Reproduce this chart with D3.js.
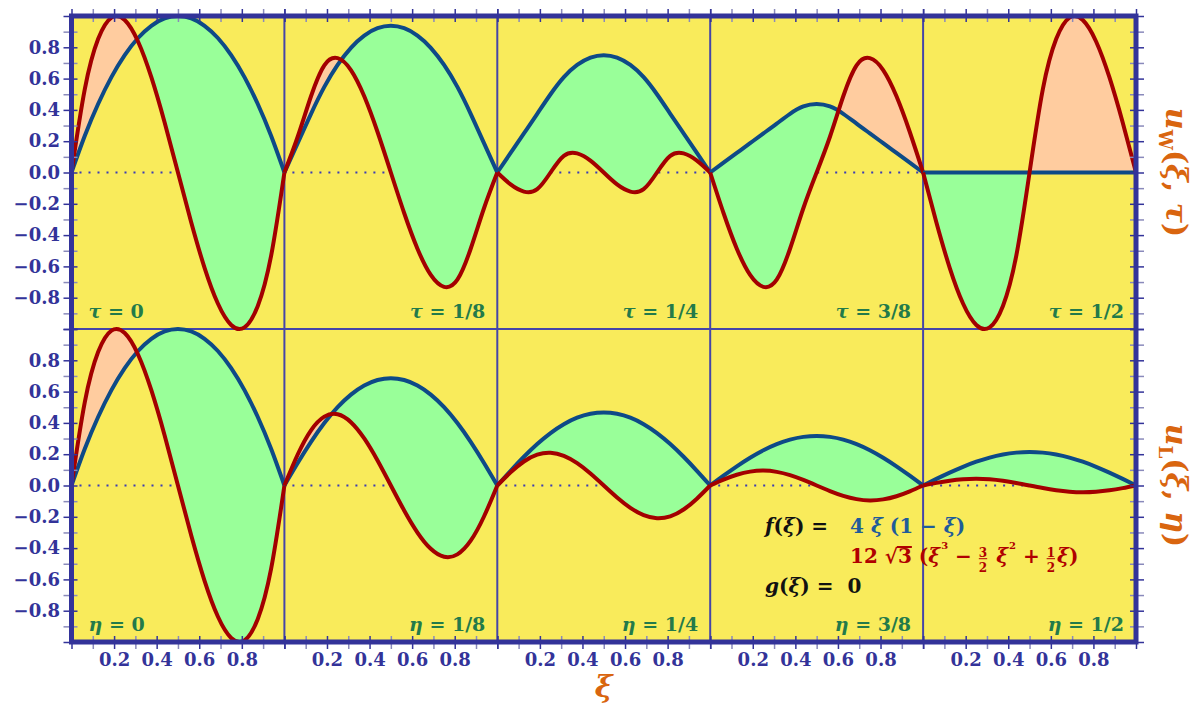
<!DOCTYPE html>
<html>
<head>
<meta charset="utf-8">
<script src="https://cdn.jsdelivr.net/npm/d3@7"></script>
<style>
body { margin: 0; background: #fff; }
text { font-family: "DejaVu Serif", serif; white-space: pre; }
</style>
</head>
<body>
<svg id="chart" width="1200" height="709"></svg>
<script>
// sample points along xi, shared by every panel
var xiGrid = [0, 0.0625, 0.125, 0.1875, 0.25, 0.3125, 0.375, 0.4375, 0.5,
              0.5625, 0.625, 0.6875, 0.75, 0.8125, 0.875, 0.9375, 1];
var stepLabels = ["0", "1/8", "1/4", "3/8", "1/2"];

// wave solution u_W, one row per tau
var waveBlue = [
  [0, 0.2344, 0.4375, 0.6094, 0.75, 0.8594, 0.9375, 0.9844, 1, 0.9844, 0.9375, 0.8594, 0.75, 0.6094, 0.4375, 0.2344, 0],
  [0, 0.1875, 0.375, 0.5469, 0.6875, 0.7969, 0.875, 0.9219, 0.9375, 0.9219, 0.875, 0.7969, 0.6875, 0.5469, 0.375, 0.1875, 0],
  [0, 0.125, 0.25, 0.375, 0.5, 0.6094, 0.6875, 0.7344, 0.75, 0.7344, 0.6875, 0.6094, 0.5, 0.375, 0.25, 0.125, 0],
  [0, 0.0625, 0.125, 0.1875, 0.25, 0.3125, 0.375, 0.4219, 0.4375, 0.4219, 0.375, 0.3125, 0.25, 0.1875, 0.125, 0.0625, 0],
  [0, 0, 0, 0, 0, 0, 0, 0, 0, 0, 0, 0, 0, 0, 0, 0, 0]
];
var waveRed = [
  [0, 0.5328, 0.8525, 0.9895, 0.9743, 0.8373, 0.6089, 0.3197, 0, -0.3197, -0.6089, -0.8373, -0.9743, -0.9895, -0.8525, -0.5328, 0],
  [0, 0.2284, 0.4871, 0.6851, 0.7307, 0.6546, 0.4871, 0.2588, 0, -0.2588, -0.4871, -0.6546, -0.7307, -0.6851, -0.4871, -0.2284, 0],
  [0, -0.0761, -0.1218, -0.1066, 0, 0.1066, 0.1218, 0.0761, 0, -0.0761, -0.1218, -0.1066, 0, 0.1066, 0.1218, 0.0761, 0],
  [0, -0.2588, -0.4871, -0.6546, -0.7307, -0.6851, -0.4871, -0.2284, 0, 0.2284, 0.4871, 0.6851, 0.7307, 0.6546, 0.4871, 0.2588, 0],
  [0, -0.3197, -0.6089, -0.8373, -0.9743, -0.9895, -0.8525, -0.5328, 0, 0.5328, 0.8525, 0.9895, 0.9743, 0.8373, 0.6089, 0.3197, 0]
];

// laplace solution u_L, one row per eta
var laplaceBlue = [
  [0, 0.2344, 0.4375, 0.6094, 0.75, 0.8594, 0.9375, 0.9844, 1, 0.9844, 0.9375, 0.8594, 0.75, 0.6094, 0.4375, 0.2344, 0],
  [0, 0.1435, 0.2786, 0.3989, 0.5003, 0.5806, 0.6389, 0.6743, 0.6861, 0.6743, 0.6389, 0.5806, 0.5003, 0.3989, 0.2786, 0.1435, 0],
  [0, 0.0940, 0.1836, 0.2650, 0.3352, 0.3918, 0.4333, 0.4586, 0.4671, 0.4586, 0.4333, 0.3918, 0.3352, 0.2650, 0.1836, 0.0940, 0],
  [0, 0.0626, 0.1226, 0.1776, 0.2255, 0.2644, 0.2931, 0.3107, 0.3166, 0.3107, 0.2931, 0.2644, 0.2255, 0.1776, 0.1226, 0.0626, 0],
  [0, 0.0421, 0.0824, 0.1195, 0.1520, 0.1785, 0.1981, 0.2101, 0.2142, 0.2101, 0.1981, 0.1785, 0.1520, 0.1195, 0.0824, 0.0421, 0]
];
var laplaceRed = [
  [0, 0.5328, 0.8525, 0.9895, 0.9743, 0.8373, 0.6089, 0.3197, 0, -0.3197, -0.6089, -0.8373, -0.9743, -0.9895, -0.8525, -0.5328, 0],
  [0, 0.1980, 0.3527, 0.4399, 0.4551, 0.4043, 0.3004, 0.1596, 0, -0.1596, -0.3004, -0.4043, -0.4551, -0.4399, -0.3527, -0.1980, 0],
  [0, 0.0841, 0.1535, 0.1968, 0.2087, 0.1891, 0.1426, 0.0765, 0, -0.0765, -0.1426, -0.1891, -0.2087, -0.1968, -0.1535, -0.0841, 0],
  [0, 0.0373, 0.0685, 0.0888, 0.0953, 0.0872, 0.0663, 0.0357, 0, -0.0357, -0.0663, -0.0872, -0.0953, -0.0888, -0.0685, -0.0373, 0],
  [0, 0.0168, 0.0310, 0.0403, 0.0435, 0.0400, 0.0305, 0.0165, 0, -0.0165, -0.0305, -0.0400, -0.0435, -0.0403, -0.0310, -0.0168, 0]
];

var xTickValues = [0, 0.1, 0.2, 0.3, 0.4, 0.5, 0.6, 0.7, 0.8, 0.9, 1];
var xLabelled = [0.2, 0.4, 0.6, 0.8];
var yTickValues = [-1, -0.9, -0.8, -0.7, -0.6, -0.5, -0.4, -0.3, -0.2, -0.1, 0,
                   0.1, 0.2, 0.3, 0.4, 0.5, 0.6, 0.7, 0.8, 0.9, 1];
var yLabelled = [-0.8, -0.6, -0.4, -0.2, 0, 0.2, 0.4, 0.6, 0.8];

var left = 71.5, right = 1136, plotTop = 16, plotBottom = 642;
var colW = (right - left) / 5, rowH = (plotBottom - plotTop) / 2;

var yellow = '#f9eb5b', green = '#99ff99', peach = '#ffcc9f',
    blueLine = '#0e4a87', redLine = '#a30000', frame = '#333399',
    minorTick = '#8a8abb', labelGreen = '#237a4a', orange = '#d9650f';

var rows = [
  {sym: 'τ', blue: waveBlue, red: waveRed, sub: 'W'},
  {sym: 'η', blue: laplaceBlue, red: laplaceRed, sub: 'L'}
];

var svg = d3.select('#chart');
var defs = svg.append('defs');
var curve = d3.curveNatural;

svg.append('rect')
    .attr('x', left).attr('y', plotTop)
    .attr('width', right - left).attr('height', plotBottom - plotTop)
    .attr('fill', yellow);

var under = svg.append('g'), gridG = svg.append('g'), over = svg.append('g'),
    axesG = svg.append('g'), frameG = svg.append('g'), textG = svg.append('g');

function isMajor(d) { return Math.round(d * 10) % 2 === 0; }
function labelFmt(list) {
  var f = d3.format('.1f');
  return function(d) {
    return list.some(function(v) { return Math.abs(v - d) < 1e-9; }) ? f(d) : '';
  };
}
function styleAxis(g) {
  g.select('.domain').remove();
  g.selectAll('.tick line')
      .attr('stroke', function(d) { return isMajor(d) ? frame : minorTick; })
      .attr('stroke-width', 1.5);
  g.selectAll('.tick text')
      .attr('fill', frame)
      .style('font-size', '18px')
      .style('font-weight', 'bold');
}

rows.forEach(function(row, r) {
  var y = d3.scaleLinear().domain([-1, 1])
      .range([plotTop + (r + 1) * rowH, plotTop + r * rowH]);

  stepLabels.forEach(function(lab, c) {
    var x = d3.scaleLinear().domain([0, 1])
        .range([left + c * colW, left + (c + 1) * colW]);
    var pts = xiGrid.map(function(v, i) {
      return {xi: v, b: row.blue[c][i], r: row.red[c][i]};
    });
    var id = 'p' + r + c;

    defs.append('clipPath').attr('id', id + 'up').append('path')
        .attr('d', d3.area().curve(curve)
          .x(function(d) { return x(d.xi); })
          .y0(y(1) - 10)
          .y1(function(d) { return y(d.b); })(pts));
    defs.append('clipPath').attr('id', id + 'dn').append('path')
        .attr('d', d3.area().curve(curve)
          .x(function(d) { return x(d.xi); })
          .y0(y(-1) + 10)
          .y1(function(d) { return y(d.b); })(pts));

    // dotted zero line, under the fills
    under.append('line')
        .attr('x1', x(0)).attr('x2', x(1))
        .attr('y1', y(0)).attr('y2', y(0))
        .attr('stroke', '#3a3ab5')
        .attr('stroke-width', 2)
        .attr('stroke-dasharray', '2,7')
        .attr('stroke-dashoffset', -8);

    var between = d3.area().curve(curve)
        .x(function(d) { return x(d.xi); })
        .y0(function(d) { return y(d.b); })
        .y1(function(d) { return y(d.r); });
    under.append('path').attr('d', between(pts))
        .attr('fill', peach).attr('clip-path', 'url(#' + id + 'up)');
    under.append('path').attr('d', between(pts))
        .attr('fill', green).attr('clip-path', 'url(#' + id + 'dn)');

    var line = d3.line().curve(curve).x(function(d) { return x(d.xi); });
    over.append('path')
        .attr('d', line.y(function(d) { return y(d.b); })(pts))
        .attr('fill', 'none').attr('stroke', blueLine).attr('stroke-width', 4);
    over.append('path')
        .attr('d', line.y(function(d) { return y(d.r); })(pts))
        .attr('fill', 'none').attr('stroke', redLine).attr('stroke-width', 4);

    // panel label
    var t = textG.append('text')
        .attr('x', c === 0 ? x(0) + 17 : x(1) - 12)
        .attr('y', y(-1) - 11)
        .attr('text-anchor', c === 0 ? 'start' : 'end')
        .attr('fill', labelGreen)
        .style('font-size', '19px')
        .style('font-weight', 'bold');
    t.append('tspan').style('font-style', 'italic').text(row.sym);
    t.append('tspan').text(' = ' + lab);

    if (r === 1) {
      axesG.append('g')
          .attr('transform', 'translate(0,' + (plotBottom - 6) + ')')
          .call(d3.axisBottom(x).tickValues(xTickValues).tickSize(13)
                .tickPadding(4).tickFormat(labelFmt(xLabelled)))
          .call(styleAxis);
    } else {
      axesG.append('g')
          .attr('transform', 'translate(0,' + (plotTop + 6) + ')')
          .call(d3.axisTop(x).tickValues(xTickValues).tickSize(13).tickFormat(''))
          .call(styleAxis);
    }
  });

  axesG.append('g')
      .attr('transform', 'translate(' + (left + 6) + ',0)')
      .call(d3.axisLeft(y).tickValues(yTickValues).tickSize(14)
            .tickPadding(3.5).tickFormat(labelFmt(yLabelled)))
      .call(styleAxis);
  axesG.append('g')
      .attr('transform', 'translate(' + (right - 6) + ',0)')
      .call(d3.axisRight(y).tickValues(yTickValues).tickSize(14).tickFormat(''))
      .call(styleAxis);

  // rotated axis title on the right
  var lt = textG.append('text')
      .attr('transform', 'translate(1166,' + (plotTop + r * rowH + rowH / 2) + ') rotate(90)')
      .attr('text-anchor', 'middle')
      .attr('fill', orange)
      .style('font-size', '30px')
      .style('font-weight', 'bold');
  lt.append('tspan').style('font-style', 'italic').text('u');
  lt.append('tspan').attr('dy', 7).style('font-size', '18px').text(row.sub);
  lt.append('tspan').attr('dy', -7).text('(');
  lt.append('tspan').style('font-style', 'italic').text('ξ');
  lt.append('tspan').text(', ');
  lt.append('tspan').style('font-style', 'italic').text(row.sym);
  lt.append('tspan').text(')');
});

// panel dividers
[1, 2, 3, 4].forEach(function(c) {
  gridG.append('line')
      .attr('x1', left + c * colW).attr('x2', left + c * colW)
      .attr('y1', plotTop).attr('y2', plotBottom)
      .attr('stroke', '#4545a8').attr('stroke-width', 2);
});
gridG.append('line')
    .attr('x1', left).attr('x2', right)
    .attr('y1', plotTop + rowH).attr('y2', plotTop + rowH)
    .attr('stroke', '#4545a8').attr('stroke-width', 2);

frameG.append('rect')
    .attr('x', left).attr('y', plotTop)
    .attr('width', right - left).attr('height', plotBottom - plotTop)
    .attr('fill', 'none').attr('stroke', frame).attr('stroke-width', 5);

textG.append('text')
    .attr('x', (left + right) / 2).attr('y', 697)
    .attr('text-anchor', 'middle')
    .attr('fill', orange)
    .style('font-size', '30px').style('font-weight', 'bold').style('font-style', 'italic')
    .text('ξ');

// formula block, laid out piece by piece
function rich(x0, y0, size, pieces) {
  var x = x0;
  pieces.forEach(function(p) {
    if (p.frac) {
      var fs = size * 0.6;
      var n = textG.append('text').attr('x', x).attr('y', y0 - 6).attr('fill', p.fill)
          .style('font-size', fs + 'px').style('font-weight', 'bold').text(p.frac[0]);
      var d = textG.append('text').attr('x', x).attr('y', y0 + 8.5).attr('fill', p.fill)
          .style('font-size', fs + 'px').style('font-weight', 'bold').text(p.frac[1]);
      var w = Math.max(n.node().getComputedTextLength(), d.node().getComputedTextLength());
      textG.append('line').attr('x1', x).attr('x2', x + w)
          .attr('y1', y0 - 4.3).attr('y2', y0 - 4.3)
          .attr('stroke', p.fill).attr('stroke-width', 1);
      x += w + 2;
      return;
    }
    var fsz = p.sup ? size * 0.5 : size;
    var t = textG.append('text').attr('x', x).attr('y', p.sup ? y0 - 14 : y0)
        .attr('fill', p.fill)
        .style('font-size', fsz + 'px').style('font-weight', 'bold')
        .style('font-style', p.it ? 'italic' : 'normal')
        .text(p.t);
    var w = t.node().getComputedTextLength();
    if (p.over) {
      textG.append('line').attr('x1', x - 1).attr('x2', x + w)
          .attr('y1', y0 - size * 0.8).attr('y2', y0 - size * 0.8)
          .attr('stroke', p.fill).attr('stroke-width', 2);
    }
    x += w + (p.gap || 0);
  });
}

var black = '#111', fBlue = '#1f5c99', fRed = '#b00000';
rich(765, 533, 20, [
  {t: 'f', it: true, fill: black}, {t: '(', fill: black}, {t: 'ξ', it: true, fill: black},
  {t: ') =', fill: black}
]);
rich(850, 533, 20, [
  {t: '4 ', fill: fBlue}, {t: 'ξ', it: true, fill: fBlue}, {t: ' (1 − ', fill: fBlue},
  {t: 'ξ', it: true, fill: fBlue}, {t: ')', fill: fBlue}
]);
rich(850, 563, 20, [
  {t: '12 √', fill: fRed}, {t: '3', over: true, fill: fRed}, {t: ' (', fill: fRed},
  {t: 'ξ', it: true, fill: fRed, gap: 1}, {t: '3', sup: true, fill: fRed},
  {t: ' − ', fill: fRed}, {frac: ['3', '2'], fill: fRed}, {t: ' ξ', it: true, fill: fRed, gap: 1},
  {t: '2', sup: true, fill: fRed}, {t: ' + ', fill: fRed}, {frac: ['1', '2'], fill: fRed},
  {t: 'ξ', it: true, fill: fRed}, {t: ')', fill: fRed}
]);
rich(765, 593, 20, [
  {t: 'g', it: true, fill: black}, {t: '(', fill: black}, {t: 'ξ', it: true, fill: black},
  {t: ') =  0', fill: black}
]);
</script>
</body>
</html>
